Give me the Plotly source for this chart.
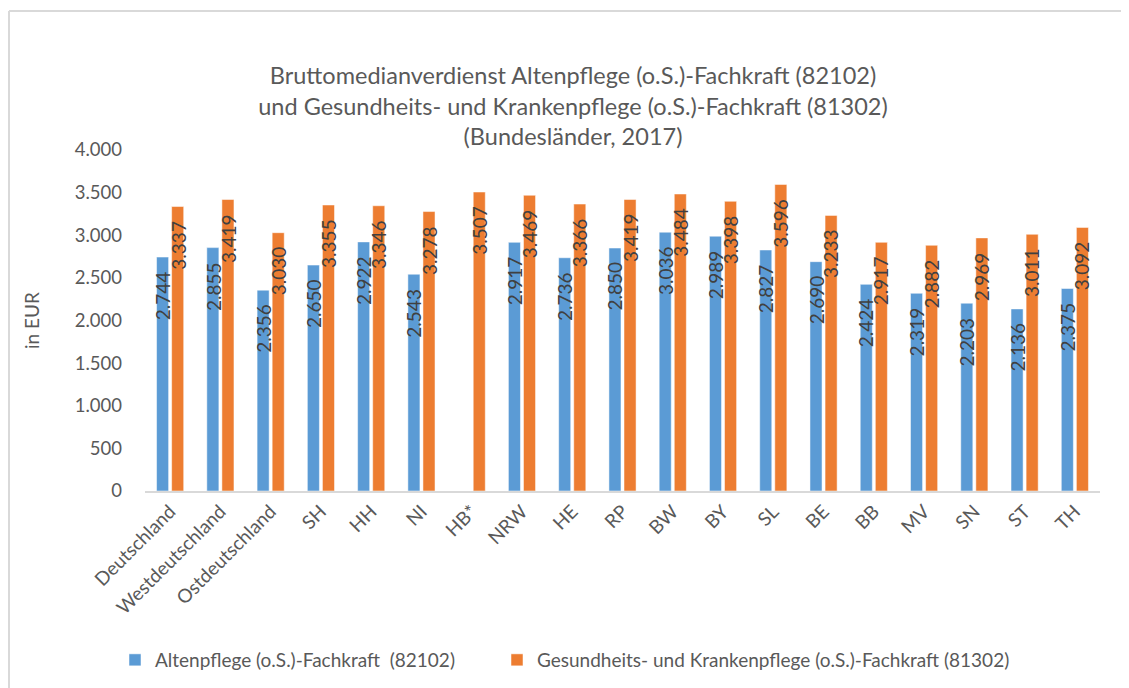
"""Bruttomedianverdienst Altenpflege vs. Gesundheits- und Krankenpflege, 2017."""
import plotly.graph_objects as go

regions = ["Deutschland", "Westdeutschland", "Ostdeutschland", "SH", "HH", "NI",
           "HB*", "NRW", "HE", "RP", "BW", "BY", "SL", "BE", "BB", "MV", "SN",
           "ST", "TH"]
altenpflege = [2744, 2855, 2356, 2650, 2922, 2543, None, 2917, 2736, 2850,
               3036, 2989, 2827, 2690, 2424, 2319, 2203, 2136, 2375]
krankenpflege = [3337, 3419, 3030, 3355, 3346, 3278, 3507, 3469, 3366, 3419,
                 3484, 3398, 3596, 3233, 2917, 2882, 2969, 3011, 3092]

name_alt = "Altenpflege (o.S.)-Fachkraft  (82102)"
name_kr = "Gesundheits- und Krankenpflege (o.S.)-Fachkraft (81302)"

_FONT = "Lato, Calibri, sans-serif"
_GREY = "#595959"
_BLUE = "#5B9BD5"
_ORANGE = "#ED7D31"

# the page body has an 8px margin, so the figure is drawn 8px smaller
W, H = 1121, 680
PL, PR, PT, PB = 137, 29, 142, 197   # plot area in figure px
pw, ph = W - PL - PR, H - PT - PB

fig = go.Figure()
fig.add_trace(go.Bar(x=regions, y=altenpflege, name=name_alt, legend="legend2",
                     showlegend=True,
                     marker=dict(color=_BLUE, line=dict(color="white", width=0.5))))
fig.add_trace(go.Bar(x=regions, y=krankenpflege, name=name_kr, legend="legend3",
                     showlegend=True,
                     marker=dict(color=_ORANGE, line=dict(color="white", width=0.5))))


def _fmt(v):
    return f"{v:,}".replace(",", ".")


# rotated value labels that hang from the top of each bar, like in Excel
for vals, shift in ((altenpflege, -7.5), (krankenpflege, 7.5)):
    for reg, v in zip(regions, vals):
        if v is None:
            continue
        fig.add_annotation(x=reg, y=v, text=_fmt(v), textangle=-90,
                           showarrow=False, xshift=shift, yshift=-12,
                           yanchor="top", xanchor="center",
                           font=dict(family=_FONT, size=19, color="#404040"))

# light chart border (Excel chart area): only the top and left edges show
bx0 = -(PL - 1) / pw
by1 = 1 + (PT - 3) / ph
border = dict(color="#d9d9d9", width=2)
fig.add_shape(type="line", xref="paper", yref="paper", x0=bx0, x1=1 + PR / pw,
              y0=by1, y1=by1, line=border, layer="below")
fig.add_shape(type="line", xref="paper", yref="paper", x0=bx0, x1=bx0,
              y0=-PB / ph, y1=by1, line=border, layer="below")

legend_y = (491 - 660) / ph
fig.update_layout(
    width=W, height=H,
    paper_bgcolor="white", plot_bgcolor="white",
    margin=dict(l=PL, r=PR, t=PT, b=PB, autoexpand=False),
    separators=",.",
    barmode="group", bargap=0.40, bargroupgap=0.2,
    font=dict(family=_FONT, size=19, color=_GREY),
    title=dict(text="Bruttomedianverdienst Altenpflege (o.S.)-Fachkraft (82102)<br>"
                    "und Gesundheits- und Krankenpflege (o.S.)-Fachkraft (81302)<br>"
                    "(Bundesländer, 2017)",
               x=565 / W, xanchor="center",
               y=1 - 76 / H, yanchor="top",
               font=dict(family=_FONT, size=23.5, color=_GREY)),
    xaxis=dict(tickangle=-45, showline=True, linecolor="#d9d9d9", linewidth=2,
               showgrid=False, ticks="", tickfont=dict(size=19, color=_GREY)),
    yaxis=dict(range=[0, 4000], dtick=500, tickformat=",d", showgrid=False,
               zeroline=False, ticks="", ticklabelstandoff=22,
               tickfont=dict(size=18.5, color=_GREY),
               title=dict(text="in EUR", font=dict(size=19, color=_GREY),
                          standoff=30)),
    legend2=dict(orientation="h", x=(115 - 145) / pw,
                 xanchor="left", y=legend_y, yanchor="middle", itemwidth=30,
                 font=dict(size=19, color=_GREY)),
    legend3=dict(orientation="h", x=(497 - 145) / pw,
                 xanchor="left", y=legend_y, yanchor="middle", itemwidth=30,
                 font=dict(size=19, color=_GREY)),
)

fig.write_html("out.html")
